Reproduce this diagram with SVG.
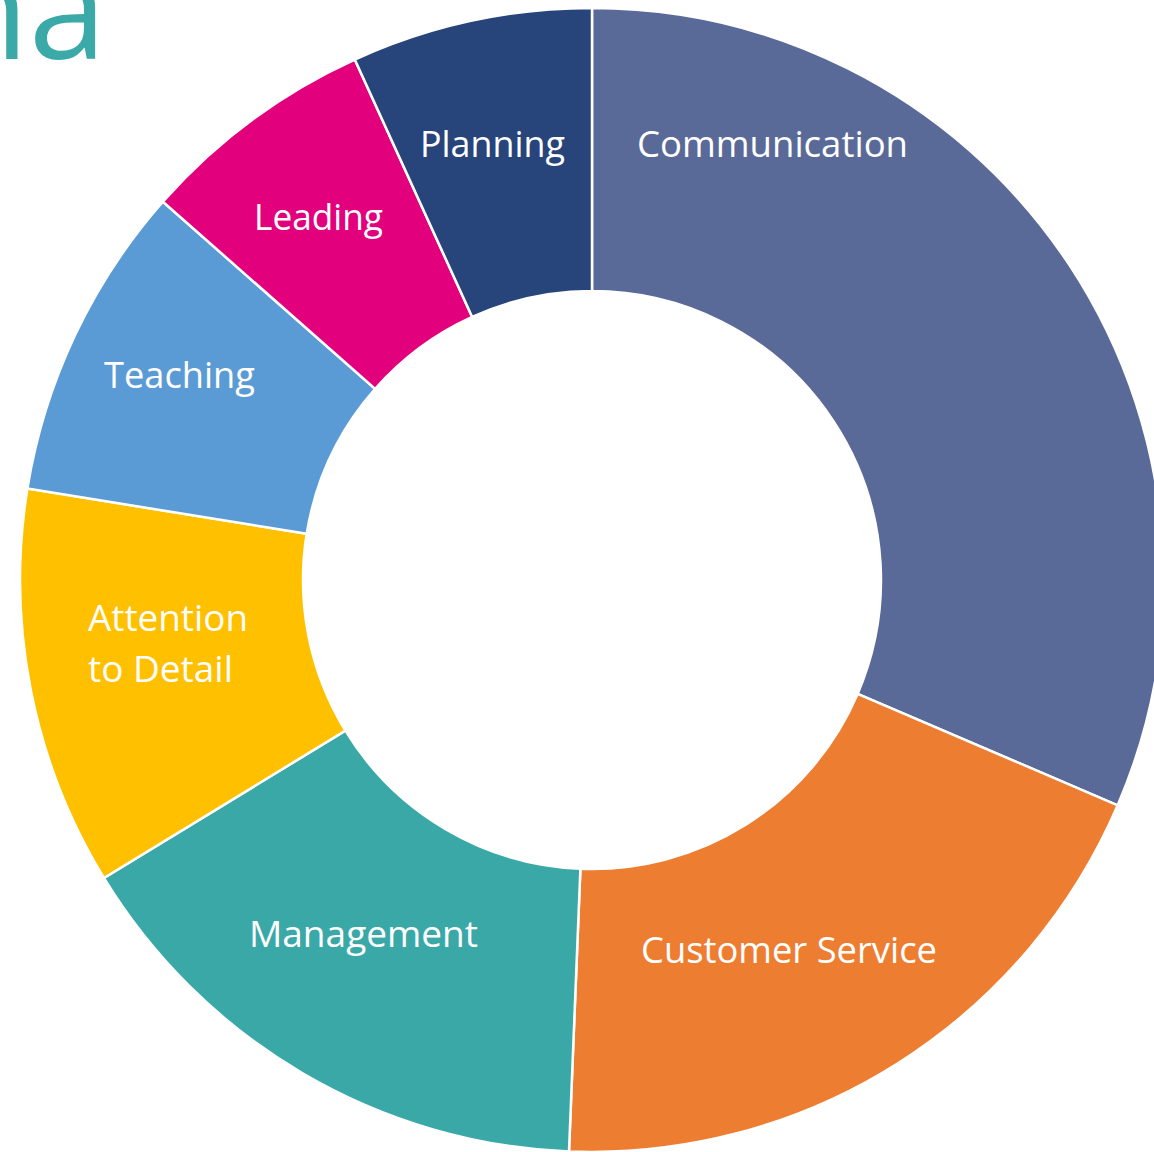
<svg xmlns="http://www.w3.org/2000/svg" width="1154" height="1152" viewBox="0 0 1154 1152">
<style>
.slice{stroke:#ffffff;stroke-width:2.5;stroke-linejoin:miter}
.lbl{font-family:"Open Sans","Liberation Sans",sans-serif;font-size:37px;fill:#ffffff}
</style>
<rect width="1154" height="1152" fill="#ffffff"/>
<text x="-57" y="59" font-family="Open Sans, Liberation Sans, sans-serif" font-weight="400" font-size="140" fill="#3AA9A8">na</text>
<g id="communication">
<path class="slice" fill="#5A6A98" d="M592,8 A572,572 0 0 1 1117.7,805.3 L857.6,693.9 A289,289 0 0 0 592,291 Z"/>
<text class="lbl" x="637" y="157" textLength="271" lengthAdjust="spacingAndGlyphs">Communication</text>
</g>
<g id="customer-service">
<path class="slice" fill="#ED7D31" d="M1117.7,805.3 A572,572 0 0 1 569.0,1151.5 L580.4,868.8 A289,289 0 0 0 857.6,693.9 Z"/>
<text class="lbl" x="641" y="963" textLength="296" lengthAdjust="spacingAndGlyphs">Customer Service</text>
</g>
<g id="management">
<path class="slice" fill="#3BA8A8" d="M569.0,1151.5 A572,572 0 0 1 103.9,878.0 L345.4,730.6 A289,289 0 0 0 580.4,868.8 Z"/>
<text class="lbl" x="249" y="947" textLength="229" lengthAdjust="spacingAndGlyphs">Management</text>
</g>
<g id="attention-to-detail">
<path class="slice" fill="#FFC000" d="M103.9,878.0 A572,572 0 0 1 27.4,488.5 L306.7,533.8 A289,289 0 0 0 345.4,730.6 Z"/>
<text class="lbl" x="88" y="631" textLength="160" lengthAdjust="spacingAndGlyphs">Attention</text>
<text class="lbl" x="88" y="682" textLength="145" lengthAdjust="spacingAndGlyphs">to Detail</text>
</g>
<g id="teaching">
<path class="slice" fill="#5B9BD5" d="M27.4,488.5 A572,572 0 0 1 162.9,201.7 L375.2,388.9 A289,289 0 0 0 306.7,533.8 Z"/>
<text class="lbl" x="104" y="388" textLength="151" lengthAdjust="spacingAndGlyphs">Teaching</text>
</g>
<g id="leading">
<path class="slice" fill="#E3007D" d="M162.9,201.7 A572,572 0 0 1 354.8,59.5 L472.2,317.0 A289,289 0 0 0 375.2,388.9 Z"/>
<text class="lbl" x="254" y="230" textLength="129" lengthAdjust="spacingAndGlyphs">Leading</text>
</g>
<g id="planning">
<path class="slice" fill="#27457A" d="M354.8,59.5 A572,572 0 0 1 592,8 L592,291 A289,289 0 0 0 472.2,317.0 Z"/>
<text class="lbl" x="420" y="157" textLength="145" lengthAdjust="spacingAndGlyphs">Planning</text>
</g>
<g id="connectors"></g>
</svg>
